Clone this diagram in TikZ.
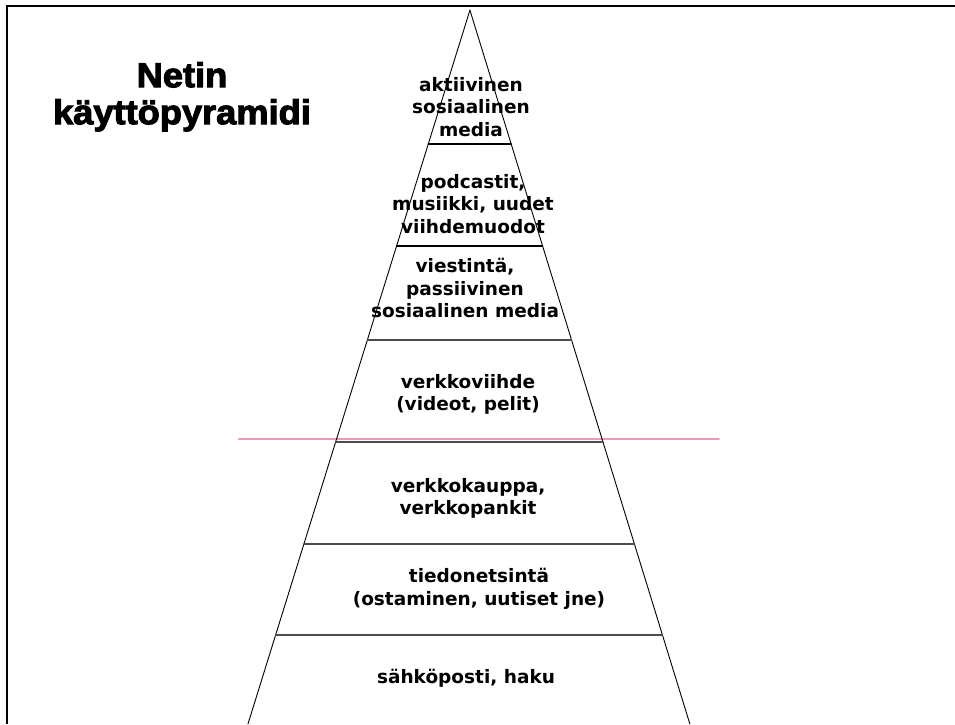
\documentclass[tikz,border=0pt]{standalone}
\usepackage{fontspec}
\newfontfamily\titlefont{Liberation Sans}[FakeStretch=1.05,BoldFeatures={FakeBold=3}]
\newfontfamily\pyrfont{DejaVu Sans}
\usetikzlibrary{arrows,calc}
\usepackage{tkz-euclide}
\definecolor{pinkline}{RGB}{236,152,186}
\tikzset{
  levtext/.style={anchor=north,inner sep=0pt,align=center,
    font=\pyrfont\bfseries\fontsize{18.5}{22.6}\selectfont},
  titletext/.style={anchor=north,inner sep=0pt,align=center,
    font=\titlefont\bfseries\fontsize{34.5}{37}\selectfont}
}

\begin{document}
\begin{tikzpicture}[scale=3.5146]
\useasboundingbox (0,0) rectangle (9.55,7.24);
\tkzSetUpLine[line width=0.9pt,color=black]

\tkzDefPoints{4.70/7.14/A,2.48/0/B,6.90/0/C}
\tkzDefPoints{4.283/5.80/P1,5.113/5.80/Q1,3.966/4.78/P2,5.427/4.78/Q2}
\tkzDefPoints{3.674/3.84/P3,5.717/3.84/Q3,3.357/2.82/P4,6.031/2.82/Q4}
\tkzDefPoints{3.040/1.80/P5,6.345/1.80/Q5,2.757/0.89/P6,6.626/0.89/Q6}
\tkzDefPoints{2.39/2.85/M,7.19/2.85/N}
\tkzDefPoints{0.07/0/F1,0.07/7.18/F2,9.55/7.18/F3}

\tkzDrawSegment[color=pinkline,line width=2pt](M,N)

\tkzDrawSegments(A,B A,C)
\tkzDrawSegments[line width=1.3pt](P1,Q1 P2,Q2)
\tkzDrawSegments[line width=1.3pt,color=black!70](P3,Q3 P4,Q4 P5,Q5 P6,Q6)

\draw[line width=2.5pt] (F1) -- (F2) -- (F3);

\node[titletext] (title) at (1.82,6.62) {Netin\\käyttöpyramidi};

\node[levtext] (akt) at (4.71,6.47) {aktiivinen\\sosiaalinen\\media};
\node[levtext] (pod) at (4.73,5.50) {podcastit,\\musiikki, uudet\\viihdemuodot};
\node[levtext] (vie) at (4.65,4.66) {viestintä,\\passiivinen\\sosiaalinen media};
\node[levtext] (vih) at (4.68,3.50) {verkkoviihde\\(videot, pelit)};
\node[levtext] (kau) at (4.68,2.46) {verkkokauppa,\\verkkopankit};
\node[levtext] (tie) at (4.79,1.56) {tiedonetsintä\\(ostaminen, uutiset jne)};
\node[levtext] (sah) at (4.66,0.55) {sähköposti, haku};

\end{tikzpicture}
\end{document}
